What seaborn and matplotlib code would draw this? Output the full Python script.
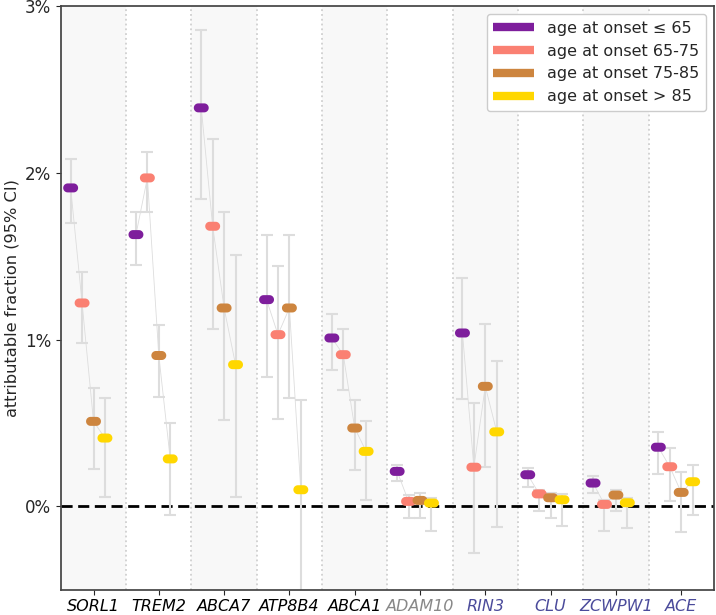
import numpy as np
import pandas as pd
import seaborn as sns
import matplotlib.pyplot as plt
from matplotlib.path import Path
from matplotlib.lines import Line2D
from matplotlib.ticker import PercentFormatter

# genes and age-at-onset groups
genes = ["SORL1", "TREM2", "ABCA7", "ATP8B4", "ABCA1",
         "ADAM10", "RIN3", "CLU", "ZCWPW1", "ACE"]
gene_colors = ["black"] * 5 + ["#888888"] + ["#4b4b9b"] * 4
groups = ["age at onset \u2264 65", "age at onset 65-75",
          "age at onset 75-85", "age at onset > 85"]
palette = ["#7e1e9c", "#fa8072", "#cd853f", "#ffd700"]

# attributable fraction (%) per gene, one list per group
af_le65 = [1.91, 1.63, 2.39, 1.24, 1.01, 0.21, 1.04, 0.19, 0.14, 0.355]
af_6575 = [1.22, 1.97, 1.68, 1.03, 0.91, 0.03, 0.235, 0.075, 0.012, 0.238]
af_7585 = [0.51, 0.905, 1.19, 1.19, 0.47, 0.036, 0.72, 0.052, 0.068, 0.084]
af_gt85 = [0.41, 0.285, 0.85, 0.10, 0.33, 0.02, 0.447, 0.04, 0.022, 0.148]

# 95% CI lower / upper bounds (%)
lo_le65 = [1.70, 1.445, 1.846, 0.778, 0.82, 0.154, 0.645, 0.116, 0.078, 0.194]
hi_le65 = [2.084, 1.768, 2.858, 1.625, 1.152, 0.25, 1.367, 0.23, 0.18, 0.449]
lo_6575 = [0.978, 1.768, 1.064, 0.523, 0.701, -0.07, -0.277, -0.03, -0.146, 0.034]
hi_6575 = [1.403, 2.126, 2.205, 1.439, 1.062, 0.07, 0.623, 0.10, 0.04, 0.349]
lo_7585 = [0.226, 0.659, 0.517, 0.653, 0.217, -0.07, 0.235, -0.07, -0.028, -0.154]
hi_7585 = [0.708, 1.086, 1.766, 1.625, 0.641, 0.08, 1.094, 0.08, 0.10, 0.204]
lo_gt85 = [0.056, -0.052, 0.056, -0.70, 0.038, -0.148, -0.122, -0.12, -0.132, -0.05]
hi_gt85 = [0.651, 0.503, 1.509, 0.639, 0.511, 0.05, 0.87, 0.074, 0.05, 0.247]

offsets = [-0.35, -0.175, 0.0, 0.175]

vals = [af_le65, af_6575, af_7585, af_gt85]
los = [lo_le65, lo_6575, lo_7585, lo_gt85]
his = [hi_le65, hi_6575, hi_7585, hi_gt85]

rows = []
for g, grp in enumerate(groups):
    for i, gene in enumerate(genes):
        rows.append(dict(gene=gene, group=grp, x=i + offsets[g],
                         value=vals[g][i], lo=los[g][i], hi=his[g][i]))
df = pd.DataFrame(rows)

sns.set_style("ticks")

fig = plt.figure(figsize=(7.16, 6.15), dpi=100)
ax = fig.add_axes([0.085, 0.041, 0.912, 0.949])

# alternating shaded columns and dotted separators
for i in range(len(genes)):
    if i % 2 == 0:
        ax.axvspan(i - 0.5, i + 0.5, color="#f8f8f8", zorder=0, lw=0)
    if i < len(genes) - 1:
        ax.axvline(i + 0.5, color="#d0d0d0", ls=":", lw=1.3, zorder=0.5)

ax.axhline(0, color="black", ls=(0, (4, 2)), lw=2, zorder=1)

# thin connector within each gene
sns.lineplot(data=df, x="x", y="value", units="gene", estimator=None,
             color="#dddddd", lw=0.6, ax=ax, zorder=1.5, legend=False)

ax.errorbar(df["x"], df["value"],
            yerr=[df["value"] - df["lo"], df["hi"] - df["value"]],
            fmt="none", ecolor="#dddddd", elinewidth=1.5,
            capsize=4, capthick=1.5, zorder=2)

# pill-shaped marker
t = np.linspace(-np.pi / 2, np.pi / 2, 20)
r, a = 0.5, 0.33
right = np.column_stack([a + r * np.cos(t), r * np.sin(t)])
left = np.column_stack([-a - r * np.cos(t), -r * np.sin(t)])
verts = np.vstack([right, left, right[:1]])
pill = Path(verts, closed=True)

sns.scatterplot(data=df, x="x", y="value", hue="group", hue_order=groups,
                palette=palette, marker=pill, s=115, linewidth=0,
                ax=ax, zorder=3, legend=False)

ax.set_xlim(-0.5, 9.5)
ax.set_ylim(-0.5, 3)
ax.set_yticks([0, 1, 2, 3])
ax.yaxis.set_major_formatter(PercentFormatter(xmax=100, decimals=0))
ax.set_xticks(range(len(genes)))
ax.set_xticklabels(genes, fontstyle="italic", fontsize=11.5)
for lab, c in zip(ax.get_xticklabels(), gene_colors):
    lab.set_color(c)
ax.tick_params(axis="y", labelsize=12)
ax.tick_params(axis="x", pad=3)
ax.set_xlabel("")
ax.set_ylabel("attributable fraction (95% CI)", fontsize=11.7)

for sp in ax.spines.values():
    sp.set_color("#444444")
    sp.set_linewidth(1.25)
    sp.set_visible(True)

handles = [Line2D([0], [0], color=c, lw=6, solid_capstyle="butt")
           for c in palette]
ax.legend(handles, groups, loc="upper right", fontsize=11.5,
          handlelength=2.6, framealpha=1)

plt.savefig("out.png", dpi=100)
